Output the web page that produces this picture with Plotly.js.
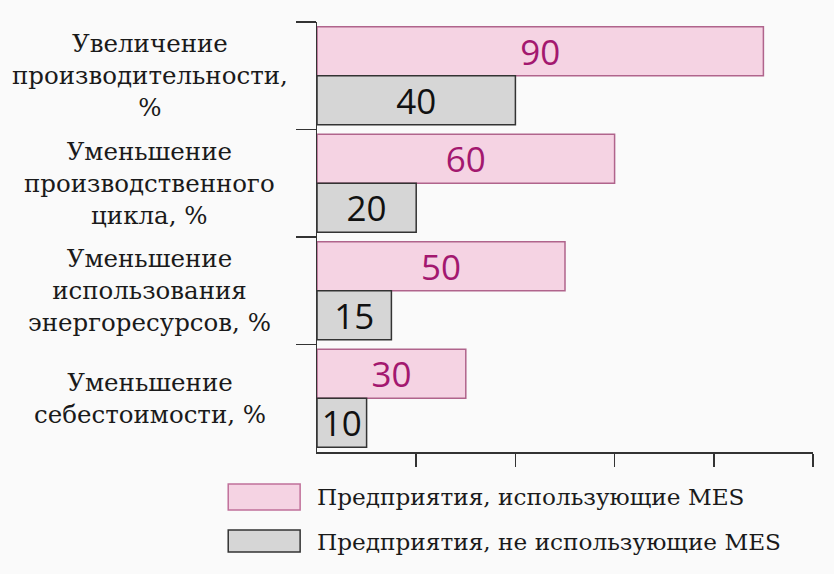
<!DOCTYPE html>
<html><head><meta charset="utf-8">
<script src="https://cdn.plot.ly/plotly-3.0.1.min.js"></script>
<style>html,body{margin:0;padding:0;background:#fafafa;}</style>
</head><body><div id="chart" style="width:834px;height:574px;"></div>
<script>
const categories = ["Увеличение<br>производительности,<br>%", "Уменьшение<br>производственного<br>цикла, %", "Уменьшение<br>использования<br>энергоресурсов, %", "Уменьшение<br>себестоимости, %"];
const catKeys = ["c1", "c2", "c3", "c4"];
const withMES = [90, 60, 50, 30];
const withoutMES = [40, 20, 15, 10];
const seriesNames = ["Предприятия, использующие MES", "Предприятия, не использующие MES"];
const xTicks = [20, 40, 60, 80, 100];

const labelFont = {family: "DejaVu Serif", size: 24.5, color: "#1a1a1a"};
const legendFont = {family: "DejaVu Serif", size: 23.2, color: "#1a1a1a"};
const numFont = "Open Sans";

const traces = [
  {type: "bar", orientation: "h", y: catKeys, x: withMES, name: seriesNames[0],
   marker: {color: "#f5d3e3", line: {color: "#b0648c", width: 1.5}},
   text: withMES.map(String), textposition: "inside", insidetextanchor: "middle", textangle: 0,
   constraintext: "none", insidetextfont: {family: numFont, size: 35, color: "#a3186f"}, hoverinfo: "none"},
  {type: "bar", orientation: "h", y: catKeys, x: withoutMES, name: seriesNames[1],
   marker: {color: "#d6d6d6", line: {color: "#333333", width: 1.5}},
   text: withoutMES.map(String), textposition: "inside", insidetextanchor: "middle", textangle: 0,
   constraintext: "none", insidetextfont: {family: numFont, size: 35, color: "#111111"}, hoverinfo: "none"}
];

const annotations = catKeys.map((k, i) => ({
  xref: "paper", yref: "y", x: -0.337, y: k, text: categories[i], showarrow: false,
  xanchor: "center", yanchor: "middle", align: "center", font: labelFont
}));
const legY = [[-0.0744, -0.1349], [-0.1814, -0.2326]];
const legColors = [["#f5d3e3", "#c0709a"], ["#d6d6d6", "#333333"]];
const shapes = [];
seriesNames.forEach((n, i) => {
  shapes.push({type: "rect", xref: "paper", yref: "paper", x0: -0.179, x1: -0.034,
    y0: legY[i][0], y1: legY[i][1], fillcolor: legColors[i][0], line: {color: legColors[i][1], width: 1.5}});
  annotations.push({xref: "paper", yref: "paper", x: -0.004, y: (legY[i][0] + legY[i][1]) / 2,
    text: n, showarrow: false, xanchor: "left", yanchor: "middle", font: legendFont});
});

const layout = {
  width: 834, height: 574,
  margin: {l: 317, r: 21, t: 22, b: 122},
  paper_bgcolor: "#fafafa", plot_bgcolor: "#fafafa",
  barmode: "group", bargap: 0.09, bargroupgap: 0,
  showlegend: false,
  xaxis: {range: [0, 100], tickvals: xTicks, showticklabels: false, ticks: "outside", ticklen: 13,
          tickcolor: "#333", tickwidth: 1.5, showline: true, linecolor: "#333", linewidth: 1.5,
          showgrid: false, zeroline: false, fixedrange: true},
  yaxis: {type: "category", autorange: "reversed", showticklabels: false, ticks: "outside",
          tickson: "boundaries", ticklen: 20, tickcolor: "#333", tickwidth: 1.5,
          showline: true, linecolor: "#333", linewidth: 1.5, showgrid: false, fixedrange: true},
  annotations: annotations, shapes: shapes
};
Plotly.newPlot("chart", traces, layout, {displayModeBar: false, staticPlot: true});
</script></body></html>
